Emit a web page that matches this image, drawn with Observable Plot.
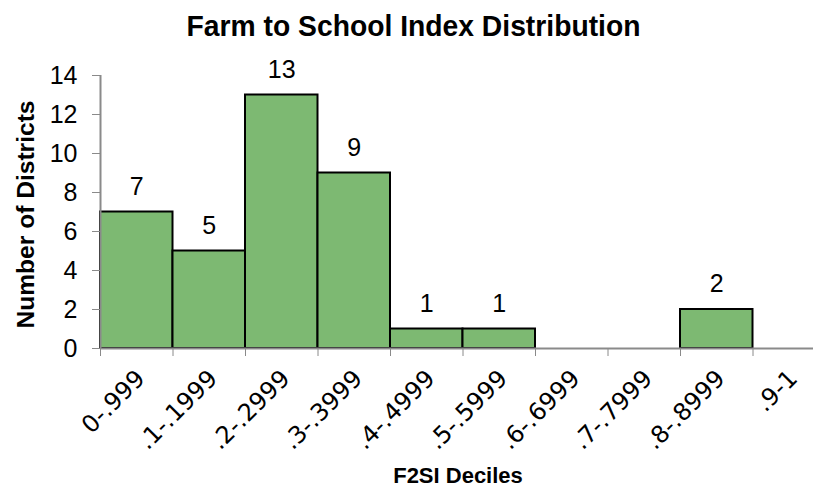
<!DOCTYPE html>
<html><head><meta charset="utf-8">
<script src="https://cdn.jsdelivr.net/npm/d3@7"></script>
<script src="https://cdn.jsdelivr.net/npm/@observablehq/plot@0.6"></script>
<style>body{margin:0;background:#fff}svg{overflow:hidden}</style>
</head><body><div id="chart"></div>
<script>
const categories = ["0-.999", ".1-.1999", ".2-.2999", ".3-.3999", ".4-.4999", ".5-.5999", ".6-.6999", ".7-.7999", ".8-.8999", ".9-1"];
const counts = [7, 5, 13, 9, 1, 1, 0, 0, 2, 0];
const yTicks = [0, 2, 4, 6, 8, 10, 12, 14];
const title = "Farm to School Index Distribution";
const xTitle = "F2SI Deciles";
const yTitle = "Number of Districts";

const data = categories.map((c, i) => ({cat: c, i, count: counts[i]}));
const bars = data.filter(d => d.count > 0);
const grey = "#8a8a8a";
const boldFont = "'Liberation Sans', Arial, sans-serif";
const tickFont = "'DejaVu Sans', Verdana, sans-serif";

const chart = Plot.plot({
  width: 813,
  height: 491,
  marginLeft: 100,
  marginRight: -12,
  marginTop: 75,
  marginBottom: 143,
  style: {fontFamily: "'Liberation Sans', Arial, sans-serif", fontSize: "25px", background: "#fff", color: "#000"},
  x: {type: "linear", domain: [0, 10]},
  y: {domain: [0, 14]},
  marks: [
    Plot.rectY(bars, {x1: "i", x2: d => d.i + 1, y: "count", fill: "#7db972", stroke: "#000", strokeWidth: 2}),
    Plot.ruleY([0], {stroke: grey, strokeWidth: 2}),
    Plot.ruleX([0], {stroke: grey, strokeWidth: 2}),
    Plot.axisY({ticks: yTicks, tickSize: 8, tickPadding: 15, stroke: grey, fill: "#000", fontSize: 25, label: null}),
    Plot.axisX({ticks: d3.range(0, 11), tickSize: 8, stroke: grey, tickFormat: () => "", label: null}),
    Plot.text(categories, {x: (d, i) => i + 0.5, frameAnchor: "bottom", text: d => d, rotate: -45,
      textAnchor: "end", lineAnchor: "middle", dx: 4, dy: 26, fontSize: 24, fontFamily: tickFont, fill: "#000"}),
    Plot.text(bars, {x: d => d.i + 0.5, y: "count", text: d => String(d.count), dy: -25.5, fontSize: 25, fill: "#000"}),
    Plot.text([title], {frameAnchor: "top", lineAnchor: "middle", textAnchor: "middle", dx: -49.5, dy: -49, fontSize: 30, fontWeight: "bold", fontFamily: boldFont, fill: "#000"}),
    Plot.text([xTitle], {frameAnchor: "bottom", lineAnchor: "middle", textAnchor: "middle", dx: -5, dy: 127, fontSize: 22, fontWeight: "bold", fontFamily: boldFont, fill: "#000"}),
    Plot.text([yTitle], {frameAnchor: "left", lineAnchor: "middle", textAnchor: "middle", dx: -74, dy: 2.5, rotate: -90, fontSize: 23, fontWeight: "bold", fontFamily: boldFont, fill: "#000"})
  ]
});
// slightly condense the titles to match the reference's condensed face
d3.select(chart).selectAll("text").filter(function() { return this.textContent === title; })
  .attr("textLength", 454).attr("lengthAdjust", "spacingAndGlyphs");
d3.select(chart).selectAll("text").filter(function() { return this.textContent === yTitle; })
  .attr("textLength", 228).attr("lengthAdjust", "spacingAndGlyphs");
document.getElementById("chart").appendChild(chart);
</script>
</body></html>
